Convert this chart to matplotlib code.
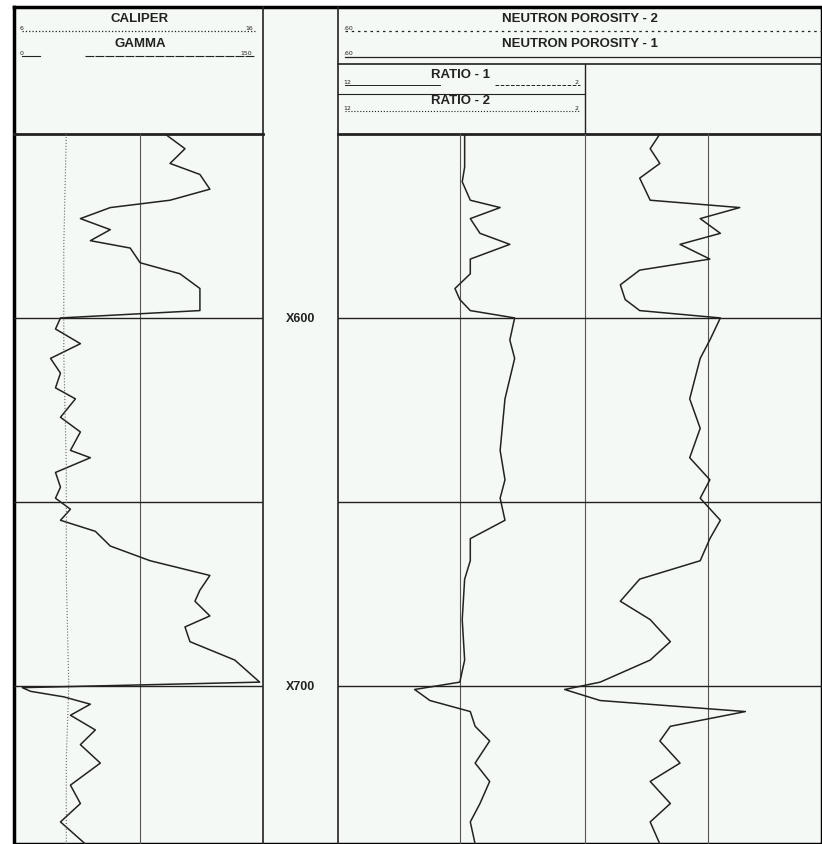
import matplotlib
matplotlib.use("Agg")
import matplotlib.pyplot as plt

W, H = 822, 845

# depth (ft) and readings for each curve
gr_depth = [550, 554, 558, 561, 565, 568, 570, 573, 576, 579, 581, 585, 588, 592, 595, 598,
            600, 603, 607, 611, 615, 619, 622, 627, 631, 636, 638, 642, 646, 649, 652, 655,
            658, 662, 666, 670, 674, 677, 681, 684, 688, 693, 699, 700.5, 701.5, 703, 705,
            708, 712, 716, 721, 727, 732, 737, 743]
gamma = [91, 103, 94, 112, 118, 94, 58, 40, 58, 46, 70, 76, 100, 112, 112, 112,
         28, 25, 40, 22, 28, 25, 37, 28, 40, 34, 46, 25, 28, 25, 34, 28,
         49, 58, 82, 118, 112, 109, 118, 103, 106, 133, 148, 5, 10, 30, 46,
         34, 49, 40, 52, 34, 40, 28, 43]
cal_depth = [550, 580, 610, 640, 670, 700, 720, 743]
caliper = [8.1, 8.0, 8.0, 8.1, 8.1, 8.2, 8.1, 8.1]

np_depth = [550, 554, 559, 563, 568, 570, 573, 577, 580, 584, 588, 592, 595, 598,
            600, 606, 611, 622, 636, 644, 649, 655, 660, 666, 671, 682, 693, 699,
            701, 704, 707, 711, 715, 721, 726, 732, 737, 743]
np_1 = [44.3, 44.3, 44.3, 44.6, 43.6, 39.9, 43.6, 42.4, 38.7, 43.6, 43.6, 45.5, 44.9, 43.6,
        38.1, 38.7, 38.1, 39.3, 39.9, 39.3, 39.9, 39.3, 43.6, 43.6, 44.3, 44.6, 44.3, 44.9,
        50.5, 48.6, 43.6, 43.0, 41.2, 43.0, 41.2, 42.4, 43.6, 43.0]
np2_depth = [550, 554, 558, 562, 568, 570, 573, 577, 580, 584, 587, 591, 595, 598,
             600, 606, 611, 622, 630, 638, 644, 649, 655, 660, 666, 671, 677, 682,
             688, 693, 699, 701, 704, 707, 711, 715, 721, 726, 732, 737, 743]
np_2 = [20.1, 21.3, 20.1, 22.6, 21.3, 10.2, 15.1, 12.6, 17.6, 13.9, 22.6, 25.0, 24.4, 22.6,
        12.6, 13.9, 15.1, 16.4, 15.1, 16.4, 13.9, 15.1, 12.6, 13.9, 15.1, 22.6, 25.0, 21.3,
        18.8, 21.3, 27.5, 31.9, 27.5, 9.5, 18.8, 20.1, 17.6, 21.3, 18.8, 21.3, 20.1]

grid_depths = [600, 650, 700]
depth_labels = {600: "X600", 700: "X700"}
top, bottom = 550, 743


def box(x0, y0, x1, y1):
    return [x0 / W, 1 - y1 / H, (x1 - x0) / W, (y1 - y0) / H]


fig = plt.figure(figsize=(W / 100, H / 100), dpi=100)
fig.patch.set_facecolor("white")
ink = "#222222"

# frame around everything
frame = fig.add_axes([0, 0, 1, 1], zorder=-1)
frame.set_xlim(0, W)
frame.set_ylim(H, 0)
frame.axis("off")
frame.fill([14, 822, 822, 14], [8, 8, 845, 845], color="#f5f9f5", zorder=-2)
frame.plot([14, 822, 822, 14, 14], [8, 8, 845, 845, 8], color="black", lw=2.5)
for x in (263, 338):
    frame.plot([x, x], [8, 845], color=ink, lw=1.2)
frame.plot([14, 263], [135, 135], color=ink, lw=2)
frame.plot([338, 822], [135, 135], color=ink, lw=2)
frame.plot([585, 585], [65, 135], color=ink, lw=1)
frame.plot([338, 822], [65, 65], color=ink, lw=1.2)
frame.plot([338, 585], [95, 95], color=ink, lw=0.8)

hdr = dict(fontsize=9.5, fontweight="bold", ha="center", color=ink, family="Liberation Sans")
small = dict(fontsize=4.5, color=ink)
frame.text(140, 22, "CALIPER", **hdr)
frame.text(140, 47, "GAMMA", **hdr)
frame.plot([22, 255], [32, 32], ls=":", color=ink, lw=0.9)
frame.plot([22, 40], [57, 57], color=ink, lw=0.8)
frame.plot([85, 255], [57, 57], ls="--", color=ink, lw=0.8, dashes=(8, 1))
frame.text(20, 30, "6", **small)
frame.text(245, 30, "16", **small)
frame.text(20, 55, "0", **small)
frame.text(240, 55, "150", **small)

frame.text(580, 22, "NEUTRON POROSITY - 2", **hdr)
frame.text(580, 47, "NEUTRON POROSITY - 1", **hdr)
frame.plot([345, 822], [32, 32], ls=(0, (2, 3)), color=ink, lw=0.9)
frame.plot([345, 822], [58, 58], color=ink, lw=0.9)
frame.text(343, 30, ".60", **small)
frame.text(343, 55, ".60", **small)
frame.text(460, 78, "RATIO - 1", **hdr)
frame.text(460, 104, "RATIO - 2", **hdr)
frame.plot([345, 440], [86, 86], color=ink, lw=0.7)
frame.plot([495, 580], [86, 86], ls="--", color=ink, lw=0.7)
frame.plot([345, 580], [112, 112], ls=":", color=ink, lw=0.8)
frame.text(343, 84, "12", **small)
frame.text(343, 110, "12", **small)
frame.text(574, 84, "2", **small)
frame.text(574, 110, "2", **small)

# depth track labels
dep = fig.add_axes(box(263, 135, 338, 845))
dep.set_ylim(bottom, top)
dep.set_xlim(0, 1)
dep.axis("off")
for d, lab in depth_labels.items():
    dep.text(0.5, d, lab, ha="center", va="center", fontsize=9, fontweight="bold",
             color=ink, family="Liberation Sans")

# track 1: gamma + caliper
t1 = fig.add_axes(box(14, 135, 263, 845))
t1.set_xlim(0, 150)
t1.set_ylim(bottom, top)
t1.axis("off")
t1.axvline(76, color="#555555", lw=0.8)
for d in grid_depths:
    t1.axhline(d, color=ink, lw=1)
t1.plot(gamma, gr_depth, color=ink, lw=1.1)
t1.plot([(c - 6) * 15 for c in caliper], cal_depth, color="#666666", lw=0.8, ls=":")

# track 2: neutron porosity curves (60 -> 0)
t2 = fig.add_axes(box(338, 135, 822, 845))
t2.set_xlim(60, 0)
t2.set_ylim(bottom, top)
t2.axis("off")
for x in (44.9, 29.4, 14.1):
    t2.axvline(x, color="#555555", lw=0.8)
for d in grid_depths:
    t2.axhline(d, color=ink, lw=1)
t2.plot(np_1, np_depth, color=ink, lw=1.1)
t2.plot(np_2, np2_depth, color=ink, lw=1.1)

fig.savefig("out.png", dpi=100, facecolor="white")
